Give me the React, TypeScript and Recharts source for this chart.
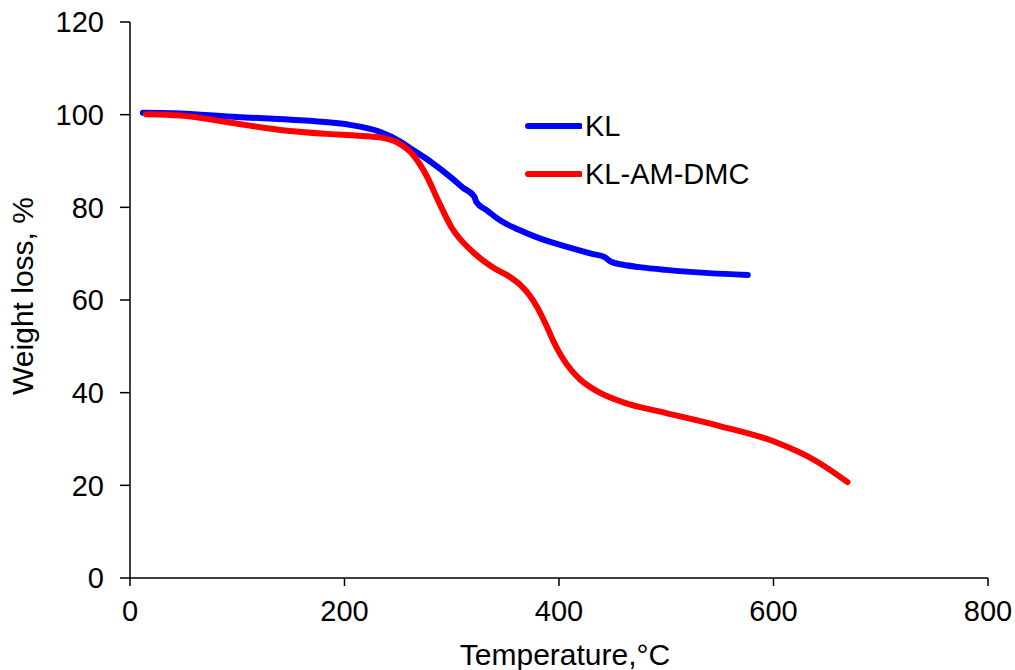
import React from 'react';
import { LineChart, Line, XAxis, YAxis } from 'recharts';

// TGA curves: temperature (°C) vs remaining weight (%)
const klTemp = [12, 40, 100, 150, 187, 205, 233, 252, 265, 280, 300, 310, 321, 323, 333, 345, 362, 382, 410, 430, 443, 448, 460, 475, 500, 540, 576];
const klWeight = [100.4, 100.3, 99.5, 98.9, 98.3, 97.8, 96.3, 94.2, 92.2, 89.9, 86.3, 84.3, 82.3, 81.1, 79.3, 77.2, 75.2, 73.3, 71.3, 70.0, 69.2, 68.3, 67.6, 67.1, 66.5, 65.8, 65.4];

const amTemp = [15, 47, 93, 140, 187, 210, 233, 249, 264, 277, 287, 300, 320, 340, 354, 365, 372, 380, 388, 395, 403, 412, 420, 438, 460, 500, 550, 600, 640, 669];
const amWeight = [100.1, 99.8, 98.3, 96.7, 95.8, 95.5, 95.1, 94.0, 91.3, 86.6, 81.6, 75.6, 70.3, 66.8, 65.0, 63.0, 61.2, 58.3, 54.6, 51.0, 47.6, 44.7, 42.8, 40.0, 37.9, 35.6, 32.8, 29.5, 25.2, 20.7];

const xTicks = [0, 200, 400, 600, 800];
const yTicks = [0, 20, 40, 60, 80, 100, 120];

const klData = klTemp.map((t, i) => ({ temp: t, weight: klWeight[i] }));
const amData = amTemp.map((t, i) => ({ temp: t, weight: amWeight[i] }));

const series = [
  { name: 'KL', color: '#0000ff', data: klData },
  { name: 'KL-AM-DMC', color: '#ff0000', data: amData },
];

const font = '"Liberation Sans", Arial, sans-serif';
const tickStyle = { fontSize: 29, fill: '#000', fontFamily: font };

// legend sits over the plot, so it is placed outside the chart layout
const LegendBox = () => (
  <div
    style={{
      position: 'absolute',
      left: 524,
      top: 102,
      fontFamily: font,
      fontSize: 29,
      color: '#000',
    }}
  >
    {series.map((s) => (
      <div key={s.name} style={{ display: 'flex', alignItems: 'center', height: 48 }}>
        <svg width={58} height={10} style={{ marginRight: 3 }}>
          <line x1={4} y1={5} x2={56} y2={5} stroke={s.color} strokeWidth={6} strokeLinecap="round" />
        </svg>
        <span>{s.name}</span>
      </div>
    ))}
  </div>
);

export default function App() {
  return (
    <div style={{ position: 'relative', width: 1015, height: 670, background: '#fff' }}>
      <style>{'body{margin:0}'}</style>
      <LineChart width={1015} height={670} margin={{ top: 22, right: 27, bottom: 0, left: 0 }}>
        <XAxis
          dataKey="temp"
          type="number"
          domain={[0, 800]}
          ticks={xTicks}
          height={92}
          stroke="#000"
          strokeWidth={1.5}
          tickSize={8}
          tickMargin={14}
          tick={tickStyle}
          label={() => (
            <text x={565} y={665} textAnchor="middle" fontSize={30} fontFamily={font} fill="#000">
              Temperature,°C
            </text>
          )}
        />
        <YAxis
          type="number"
          domain={[0, 120]}
          ticks={yTicks}
          width={130}
          stroke="#000"
          strokeWidth={1.5}
          tickSize={10}
          tickMargin={16}
          tick={tickStyle}
          label={() => (
            <text
              x={33}
              y={296}
              transform="rotate(-90 33 296)"
              textAnchor="middle"
              fontSize={30}
              fontFamily={font}
              fill="#000"
            >
              Weight loss, %
            </text>
          )}
        />
        {series.map((s) => (
          <Line
            key={s.name}
            data={s.data}
            dataKey="weight"
            name={s.name}
            type="monotone"
            stroke={s.color}
            strokeWidth={6}
            strokeLinecap="round"
            dot={false}
            activeDot={false}
            isAnimationActive={false}
          />
        ))}
      </LineChart>
      <LegendBox />
    </div>
  );
}
